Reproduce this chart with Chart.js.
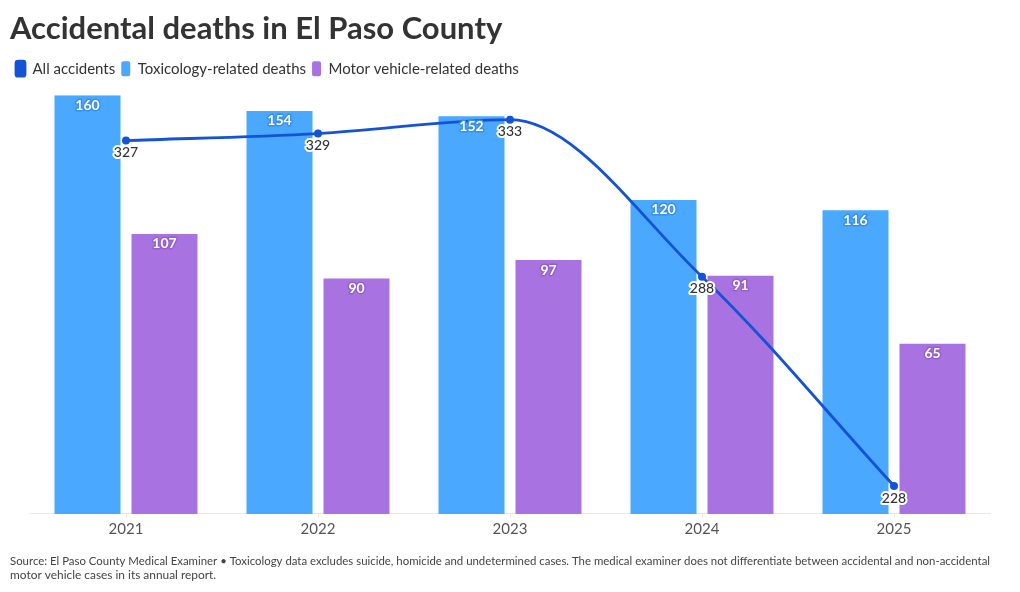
<!DOCTYPE html>
<html>
<head>
<meta charset="utf-8">
<script src="https://cdn.jsdelivr.net/npm/chart.js@4"></script>
<style>
  html, body { margin: 0; padding: 0; background: #fff; }
  #wrap { width: 1020px; height: 592px; }
</style>
</head>
<body>
<div id="wrap"><canvas id="chart"></canvas></div>
<script>
const years = ['2021', '2022', '2023', '2024', '2025'];
const allAccidents = [327, 329, 333, 288, 228];
const toxDeaths = [160, 154, 152, 120, 116];
const motorDeaths = [107, 90, 97, 91, 65];

const FONT = 'Lato, "Open Sans", sans-serif';

// draws value labels on bars and line points
const valueLabels = {
  id: 'valueLabels',
  afterDatasetsDraw(chart) {
    const ctx = chart.ctx;
    ctx.save();
    ctx.textAlign = 'center';
    ctx.textBaseline = 'middle';
    ctx.lineJoin = 'round';
    chart.data.datasets.forEach((ds, i) => {
      const meta = chart.getDatasetMeta(i);
      meta.data.forEach((el, j) => {
        const v = ds.data[j];
        if (ds.type === 'line') {
          ctx.font = '500 14px ' + FONT;
          ctx.lineWidth = 4;
          ctx.strokeStyle = '#fff';
          ctx.strokeText(v, el.x, el.y + 12);
          ctx.fillStyle = '#333';
          ctx.fillText(v, el.x, el.y + 12);
        } else {
          ctx.font = 'bold 14px ' + FONT;
          ctx.lineWidth = 3;
          ctx.strokeStyle = ds.haloColor;
          ctx.strokeText(v, el.x, el.y + 10);
          ctx.fillStyle = '#fff';
          ctx.fillText(v, el.x, el.y + 10);
        }
      });
    });
    ctx.restore();
  }
};

// extra space under the legend
const legendGap = {
  id: 'legendGap',
  beforeInit(chart) {
    const fit = chart.legend.fit;
    chart.legend.fit = function () {
      fit.bind(chart.legend)();
      this.height += 9;
    };
  }
};

new Chart(document.getElementById('chart'), {
  type: 'bar',
  data: {
    labels: years,
    datasets: [
      {
        type: 'line',
        label: 'All accidents',
        data: allAccidents,
        yAxisID: 'y1',
        borderColor: '#1553d6',
        backgroundColor: '#1553d6',
        borderWidth: 2.8,
        pointRadius: 4,
        pointBackgroundColor: '#1553d6',
        pointBorderWidth: 0,
        cubicInterpolationMode: 'monotone',
        order: 0,
      },
      {
        label: 'Toxicology-related deaths',
        data: toxDeaths,
        backgroundColor: '#4aa8ff',
        haloColor: '#3a8fe6',
        categoryPercentage: 0.802,
        barPercentage: 0.857,
        order: 1,
      },
      {
        label: 'Motor vehicle-related deaths',
        data: motorDeaths,
        backgroundColor: '#a873e0',
        haloColor: '#9560cc',
        categoryPercentage: 0.802,
        barPercentage: 0.857,
        order: 2,
      },
    ],
  },
  options: {
    responsive: true,
    maintainAspectRatio: false,
    animation: false,
    layout: {
      padding: { left: 10, right: 30, top: 0, bottom: 0 },
    },
    plugins: {
      tooltip: { enabled: false },
      title: {
        display: true,
        text: 'Accidental deaths in El Paso County',
        align: 'start',
        color: '#333',
        font: { family: FONT, size: 31, weight: 'bold' },
        padding: { top: 10, bottom: 8 },
      },
      legend: {
        align: 'start',
        labels: {
          color: '#333',
          font: { family: FONT, size: 15 },
          boxWidth: 9,
          boxHeight: 15,
          useBorderRadius: true,
          borderRadius: 2,
          padding: 6,
        },
      },
      subtitle: {
        display: true,
        position: 'bottom',
        align: 'start',
        text: [
          'Source: El Paso County Medical Examiner \u2022 Toxicology data excludes suicide, homicide and undetermined cases. The medical examiner does not differentiate between accidental and non-accidental',
          'motor vehicle cases in its annual report.',
        ],
        color: '#444',
        font: { family: FONT, size: 11.9, lineHeight: 1.18 },
        padding: { top: 14, bottom: 10 },
      },
    },
    scales: {
      x: {
        grid: {
          display: true,
          drawOnChartArea: false,
          offset: false,
          tickLength: 4,
          color: '#f0e8de',
        },
        border: { color: '#efe6dc' },
        ticks: {
          color: '#555',
          font: { family: FONT, size: 15 },
          padding: 2,
        },
      },
      y: {
        min: 0,
        max: 160,
        grid: { display: false },
        border: { display: false },
        ticks: { display: false },
        afterFit(scale) { scale.width = 20; },
      },
      y1: {
        display: false,
        min: 220,
        max: 340,
      },
    },
  },
  plugins: [valueLabels, legendGap],
});
</script>
</body>
</html>
